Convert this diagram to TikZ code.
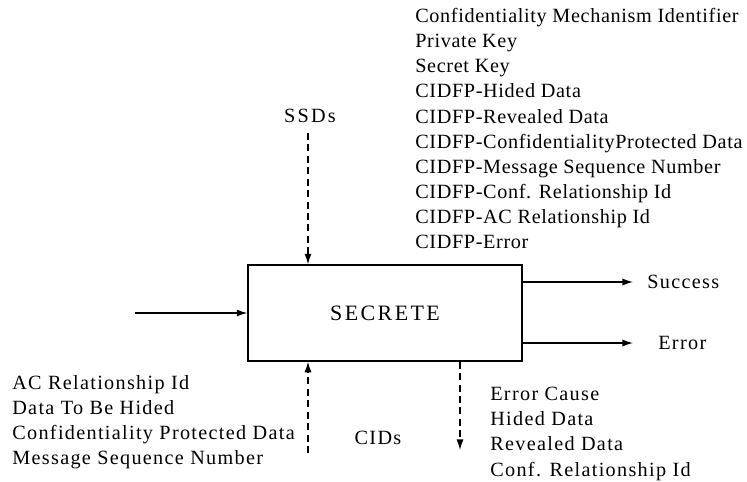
\documentclass[tikz,border=0pt]{standalone}
\usepackage{fontspec}
\setmainfont{Liberation Serif}
\usetikzlibrary{arrows.meta,positioning}
\tikzset{
  % texte des listes
  lbl/.style={font=\fontsize{11.5}{14.3}\selectfont\addfontfeatures{LetterSpace=6.5},
    inner sep=0pt, align=left},
  wide/.style={font=\fontsize{11.5}{14.3}\selectfont\addfontfeatures{LetterSpace=3.2}},
  % boite principale
  blk/.style={draw, line width=0.8pt, minimum width=274*0.02cm, minimum height=96*0.02cm,
    font=\fontsize{12.5}{14}\selectfont\addfontfeatures{LetterSpace=11}},
  % fleches
  arr/.style={-{Latex[length=6pt,width=4pt]}, line width=0.7pt},
  darr/.style={arr, dash pattern=on 4pt off 2.5pt},
}
\begin{document}
\begin{tikzpicture}[x=0.02cm, y=-0.02cm]
  \useasboundingbox (0,0) rectangle (747,481);

  % bloc
  \node[blk] (secrete) at (385,313) {SECRETE};

  % listes
  \node[lbl, wide, anchor=north west] (ssdlist) at (415,8) {Confidentiality Mechanism Identifier\\
    Private Key\\ Secret Key\\ CIDFP-Hided Data\\ CIDFP-Revealed Data\\
    CIDFP-ConfidentialityProtected Data\\ CIDFP-Message Sequence Number\\
    CIDFP-Conf. Relationship Id\\ CIDFP-AC Relationship Id\\ CIDFP-Error};
  \node[lbl, font=\fontsize{11.5}{14.3}\selectfont\addfontfeatures{LetterSpace=11}] (ssd) at (310,116) {SSDs};
  \node[lbl, anchor=north west] (inlist) at (12,375) {AC Relationship Id\\
    Data To Be Hided\\ Confidentiality Protected Data\\ Message Sequence Number};
  \node[lbl] (cid) at (378,438) {CIDs};
  \node[lbl, anchor=north west] (outlist) at (490,387) {Error Cause\\ Hided Data\\
    Revealed Data\\ Conf. Relationship Id};
  \node[lbl, anchor=west] (succ) at (647,282) {Success};
  \node[lbl, anchor=west] (err) at (658,343) {Error};

  % points libres
  \coordinate (in) at (135,313);
  \coordinate (ssdtop) at (308,133);
  \coordinate (cidbot) at (308,453);
  \coordinate (outbot) at (460,450);
  \coordinate (succend) at (633,282);
  \coordinate (errend) at (633,343);

  % connexions
  \draw[arr] (in) -- (secrete.west);
  \draw[darr] (ssdtop) -- (ssdtop |- secrete.north);
  \draw[darr] (cidbot) -- (cidbot |- secrete.south);
  \draw[darr] (outbot |- secrete.south) -- (outbot);
  \draw[arr] (succend -| secrete.east) -- (succend);
  \draw[arr] (errend -| secrete.east) -- (errend);
\end{tikzpicture}
\end{document}
